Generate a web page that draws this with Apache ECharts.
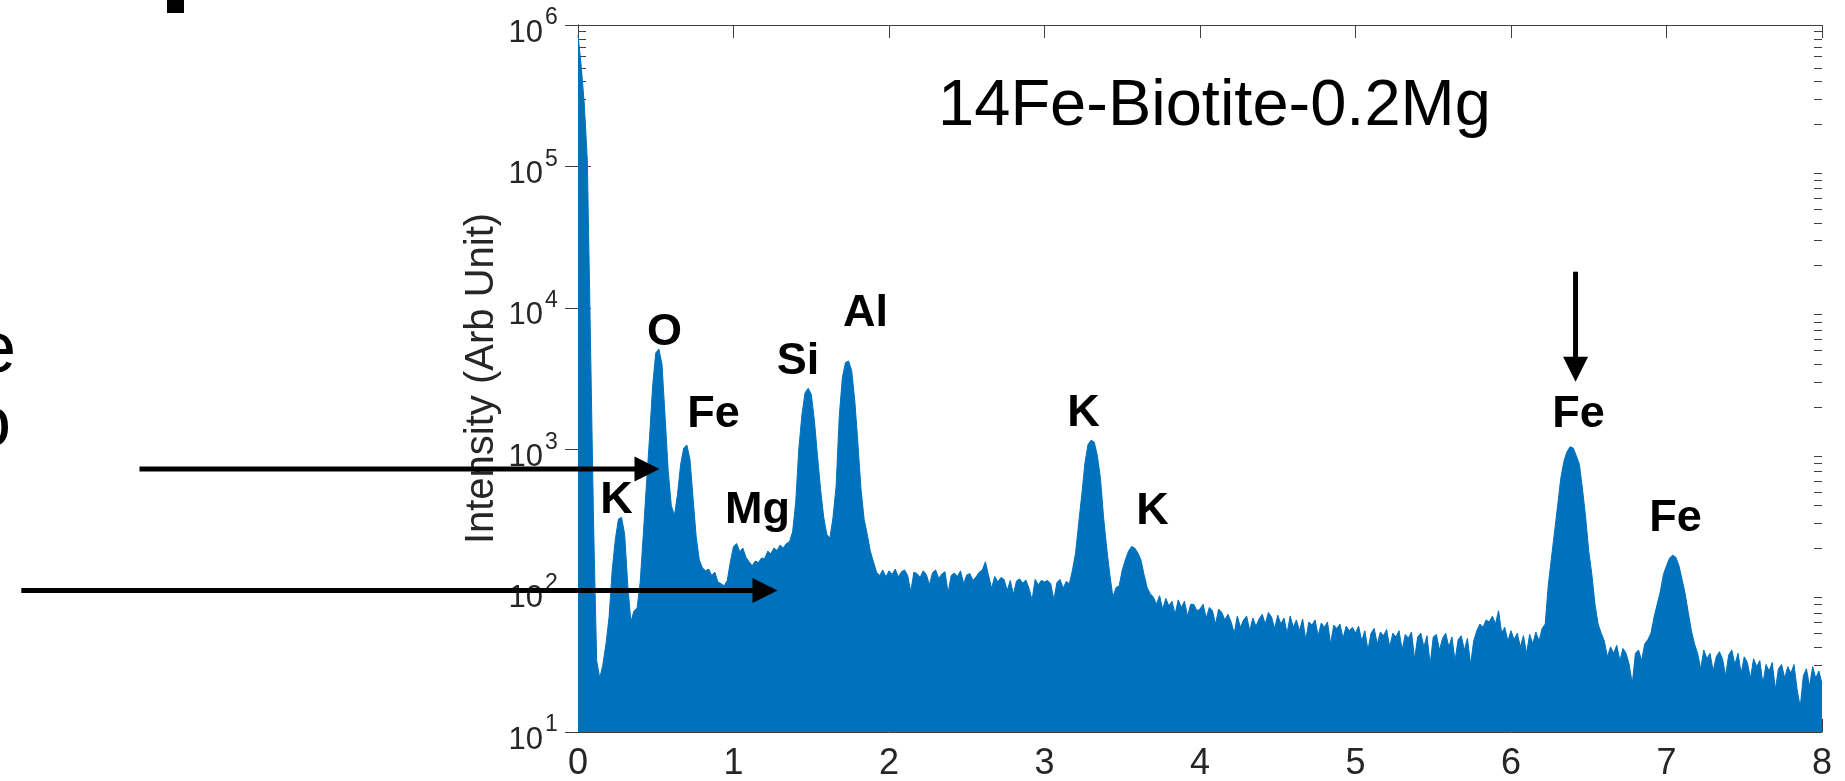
<!DOCTYPE html>
<html>
<head>
<meta charset="utf-8">
<script src="https://cdn.jsdelivr.net/npm/echarts@6/dist/echarts.min.js"></script>
<style>
  html, body { margin: 0; padding: 0; background: #fff; }
  #spectrum { width: 1845px; height: 781px; }
</style>
</head>
<body>
<div id="spectrum"></div>
<script>
// EDS spectrum, counts every 0.02 keV
const stepKeV = 0.02;
const counts0to1 = [850000, 520000, 280000, 110000, 6000, 300, 32, 24, 30, 42,
  65, 140, 230, 320, 330, 250, 110, 60, 72, 75,
  115, 250, 560, 1200, 2800, 4800, 5100, 4000, 1700, 700,
  400, 340, 480, 780, 1020, 1070, 850, 450, 240, 165,
  145, 138, 142, 128, 135, 115, 112, 108, 118, 160];
const counts1to2 = [205, 215, 188, 200, 172, 160, 150, 162, 158, 170,
  168, 190, 182, 200, 192, 210, 200, 215, 222, 260,
  420, 1000, 1750, 2500, 2700, 2450, 1600, 900, 520, 330,
  250, 235, 330, 550, 1700, 3200, 4100, 4200, 3600, 2200,
  1100, 520, 320, 250, 190, 160, 135, 128, 140, 125];
const counts2to3 = [138, 130, 142, 125, 136, 140, 128, 98, 135, 132,
  124, 138, 130, 110, 134, 140, 122, 131, 136, 96,
  128, 133, 126, 138, 112, 129, 132, 118, 125, 135,
  140, 160, 128, 104, 126, 115, 124, 120, 100, 118,
  94, 117, 121, 113, 119, 104, 86, 120, 110, 118];
const counts3to4 = [115, 118, 112, 86, 114, 120, 104, 116, 112, 140,
  185, 300, 480, 800, 1080, 1160, 1120, 900, 620, 330,
  200, 130, 90, 105, 108, 140, 165, 190, 205, 200,
  185, 165, 130, 105, 95, 90, 80, 92, 74, 88,
  78, 84, 68, 86, 76, 84, 66, 80, 80, 72];
const counts4to5 = [74, 80, 64, 76, 72, 58, 74, 70, 62, 68,
  60, 50, 66, 55, 62, 66, 52, 64, 56, 63,
  68, 58, 70, 65, 54, 67, 58, 64, 50, 66,
  55, 62, 52, 63, 45, 60, 57, 62, 48, 59,
  55, 60, 42, 57, 54, 58, 46, 56, 52, 55];
const counts5to6 = [50, 56, 44, 52, 38, 50, 54, 42, 51, 48,
  53, 40, 50, 47, 52, 38, 49, 46, 51, 33,
  47, 50, 40, 48, 30, 47, 49, 38, 46, 50,
  40, 47, 32, 45, 48, 38, 46, 30, 44, 52,
  58, 55, 62, 60, 66, 58, 72, 50, 55, 44];
const counts6to7 = [52, 45, 50, 40, 48, 36, 49, 42, 51, 44,
  54, 58, 110, 170, 260, 400, 620, 820, 960, 1040,
  1020, 900, 780, 520, 330, 190, 130, 80, 58, 50,
  44, 34, 40, 36, 41, 32, 39, 36, 30, 22,
  36, 38, 32, 42, 45, 50, 65, 80, 98, 130];
const counts7to8 = [150, 170, 178, 172, 150, 120, 95, 70, 52, 42,
  36, 28, 38, 33, 36, 27, 34, 37, 33, 25,
  35, 38, 30, 36, 26, 34, 31, 24, 33, 29,
  32, 22, 30, 27, 31, 20, 28, 30, 24, 29,
  26, 30, 20, 15, 25, 28, 21, 29, 24, 27];
const countAt8 = 22;

// peak labels, placed in data space (keV, counts)
const peakNames = ['K', 'O', 'Fe', 'Mg', 'Si', 'Al', 'K', 'K', 'Fe', 'Fe'];
const peakLabelKeV = [0.248, 0.556, 0.871, 1.154, 1.415, 1.849, 3.251, 3.695, 6.434, 7.058];
const peakLabelCounts = [459, 7080, 1890, 390, 4420, 9640, 1920, 384, 1890, 343];

const sampleName = '14Fe-Biotite-0.2Mg';
const sampleNameAt = [4.093, 287000];

const xTicks = [0, 1, 2, 3, 4, 5, 6, 7, 8];
const decades = [10, 100, 1000, 10000, 100000, 1000000];
const minorSteps = [2, 3, 4, 5, 6, 7, 8, 9];

// arrows: tail and tip in (keV, counts)
const arrowTails = [[-2.82, 724], [-3.58, 100], [6.415, 18000]];
const arrowTips = [[0.524, 724], [1.283, 100], [6.415, 3000]];

const font = "'Liberation Sans', Arial, Helvetica, sans-serif";
const axisColor = '#404040';
const textColor = '#262626';
const fillColor = '#0072BD';

const spectrum = [];
[counts0to1, counts1to2, counts2to3, counts3to4, counts4to5, counts5to6, counts6to7, counts7to8]
  .forEach((seg, k) => seg.forEach((c, i) => spectrum.push([+(k + i * stepKeV).toFixed(2), c])));
spectrum.push([8, countAt8]);

const minorTicks = [];
decades.slice(0, -1).forEach(d => minorSteps.forEach(m => minorTicks.push([xTicks[0], d * m])));

const chart = echarts.init(document.getElementById('spectrum'));

const yBase = {
  type: 'log', logBase: 10, min: decades[0], max: decades[decades.length - 1],
  splitLine: { show: false },
  axisLabel: { show: false },
  axisLine: { show: true, lineStyle: { color: axisColor, width: 1 } },
  axisTick: { show: true, inside: true, length: 13, lineStyle: { color: axisColor } }
};
const xBase = {
  type: 'value', min: xTicks[0], max: xTicks[xTicks.length - 1], interval: 1,
  splitLine: { show: false },
  axisLabel: { show: false },
  axisLine: { show: true, lineStyle: { color: axisColor, width: 1 } },
  axisTick: { show: true, inside: true, length: 13, lineStyle: { color: axisColor } }
};

function txt(x, y, text, css, fill, align) {
  return { type: 'text', x: x, y: y,
    style: { text: text, font: css, fill: fill, align: align || 'center', verticalAlign: 'middle' } };
}

chart.setOption({
  animation: false,
  backgroundColor: '#fff',
  grid: { left: 578, right: 23, top: 25, bottom: 49 },
  xAxis: [
    Object.assign({}, xBase, { position: 'bottom' }),
    Object.assign({}, xBase, { position: 'top' })
  ],
  yAxis: [
    Object.assign({}, yBase, {
      position: 'left',
      name: 'Intensity (Arb Unit)',
      nameLocation: 'middle',
      nameGap: 76,
      nameTextStyle: { fontSize: 40, color: textColor, fontFamily: font }
    }),
    Object.assign({}, yBase, { position: 'right' })
  ],
  series: [
    {
      // minor ticks of the log axis, both sides of the box
      type: 'custom',
      z: 1,
      silent: true,
      data: minorTicks,
      renderItem: (params, api) => {
        const v = api.value(1);
        const l = api.coord([xTicks[0], v]);
        const r = api.coord([xTicks[xTicks.length - 1], v]);
        const y = Math.round(l[1]) + 0.5;
        return {
          type: 'group',
          children: [
            { type: 'line', shape: { x1: l[0], y1: y, x2: l[0] + 8, y2: y }, style: { stroke: axisColor, lineWidth: 1 } },
            { type: 'line', shape: { x1: r[0] - 8, y1: y, x2: r[0], y2: y }, style: { stroke: axisColor, lineWidth: 1 } }
          ]
        };
      }
    },
    {
      type: 'line',
      z: 2,
      data: spectrum,
      showSymbol: false,
      symbol: 'none',
      clip: true,
      lineStyle: { color: fillColor, width: 1 },
      areaStyle: { color: fillColor, opacity: 1, origin: 'start' }
    },
    {
      // x tick labels
      type: 'custom',
      z: 3,
      silent: true,
      data: xTicks.map(t => [t, decades[0]]),
      renderItem: (params, api) => {
        const p = api.coord([api.value(0), api.value(1)]);
        return txt(p[0], p[1] + 32, String(api.value(0)), '36px ' + font, textColor);
      }
    },
    {
      // y tick labels as 10 with a raised exponent
      type: 'custom',
      z: 3,
      silent: true,
      data: decades.map(d => [xTicks[0], d]),
      renderItem: (params, api) => {
        const p = api.coord([api.value(0), api.value(1)]);
        const exp = String(Math.round(Math.log10(api.value(1))));
        return {
          type: 'group',
          children: [
            txt(p[0] - 35, p[1] + 8, '10', '31px ' + font, textColor, 'right'),
            txt(p[0] - 33, p[1] - 7, exp, '23px ' + font, textColor, 'left')
          ]
        };
      }
    },
    {
      // element labels
      type: 'custom',
      z: 5,
      silent: true,
      data: peakNames.map((n, i) => [peakLabelKeV[i], peakLabelCounts[i]]),
      renderItem: (params, api) => {
        const p = api.coord([api.value(0), api.value(1)]);
        return txt(p[0], p[1] + 4, peakNames[params.dataIndex], 'bold 45px ' + font, '#000');
      }
    },
    {
      // sample name
      type: 'custom',
      z: 5,
      silent: true,
      data: [sampleNameAt],
      renderItem: (params, api) => {
        const p = api.coord([api.value(0), api.value(1)]);
        return txt(p[0], p[1] + 5, sampleName, '65px ' + font, '#000');
      }
    }
  ]
});

// arrows and the cut-off pieces of the neighbouring panel
const toPx = p => chart.convertToPixel({ seriesIndex: 1 }, p);
function arrow(tail, tip) {
  const a = toPx(tail), b = toPx(tip);
  const dx = b[0] - a[0], dy = b[1] - a[1];
  const len = Math.hypot(dx, dy);
  const ux = dx / len, uy = dy / len;
  const headLen = 25, half = 12.5;
  const base = [b[0] - ux * headLen, b[1] - uy * headLen];
  return [
    { type: 'line', z: 100, shape: { x1: a[0], y1: a[1], x2: base[0] + ux * 2, y2: base[1] + uy * 2 },
      style: { stroke: '#000', lineWidth: 5 } },
    { type: 'polygon', z: 100,
      shape: { points: [b, [base[0] - uy * half, base[1] + ux * half], [base[0] + uy * half, base[1] - ux * half]] },
      style: { fill: '#000' } }
  ];
}

const graphics = [];
arrowTails.forEach((t, i) => graphics.push(...arrow(t, arrowTips[i])));
graphics.push(
  { type: 'rect', shape: { x: 167, y: 0, width: 17, height: 13 }, style: { fill: '#000' } },
  { type: 'text', x: 16, y: 352, style: { text: 'e', font: '72px ' + font, fill: '#000', align: 'right', verticalAlign: 'middle' } },
  { type: 'text', x: 11, y: 426, style: { text: 'o', font: '72px ' + font, fill: '#000', align: 'right', verticalAlign: 'middle' } }
);
chart.setOption({ graphic: graphics });
</script>
</body>
</html>
